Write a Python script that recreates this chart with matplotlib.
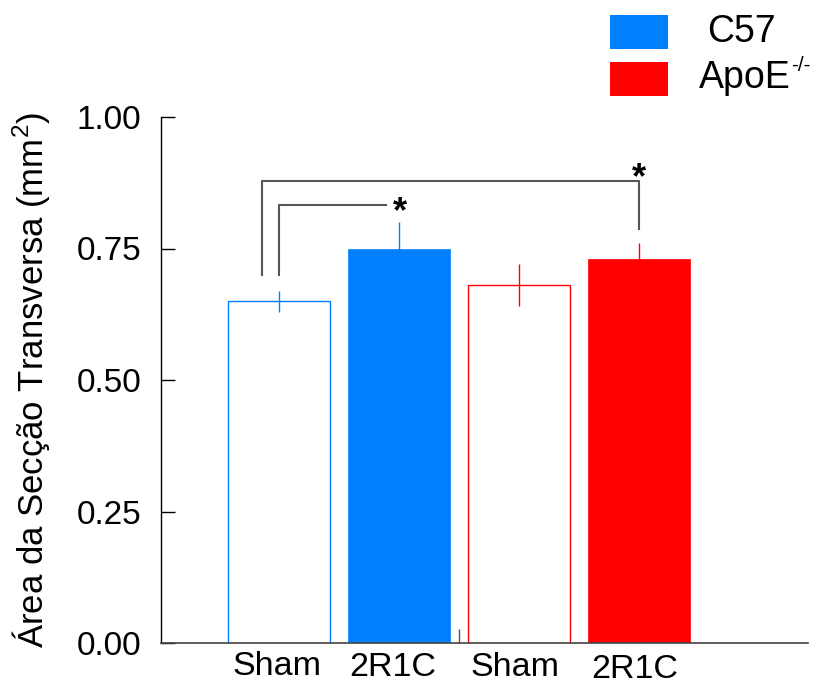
import matplotlib
matplotlib.use("Agg")
import matplotlib.pyplot as plt
from matplotlib.patches import Rectangle

plt.rcParams['font.family'] = ['Liberation Sans', 'DejaVu Sans']

categories = ["Sham", "2R1C", "Sham", "2R1C"]
values = [0.65, 0.75, 0.68, 0.73]
errors = [0.02, 0.05, 0.04, 0.03]
groups = ["C57", "C57", "ApoE", "ApoE"]
yticks = [0.00, 0.25, 0.50, 0.75, 1.00]
ytick_labels = ["0.00", "0.25", "0.50", "0.75", "1.00"]
legend_labels = ["C57", "ApoE"]
legend_sup = ["", "-/-"]

BLUE = "#0080FF"
RED = "#FF0000"
colors = {"C57": BLUE, "ApoE": RED}

fig = plt.figure(figsize=(8.28, 6.84), dpi=100)
ax = fig.add_axes([161/828, 1-643/684, (808-161)/828, (643-117)/684])

x = [1, 2, 3, 4]
width = 0.85
for i, (xi, v, e, g, cat) in enumerate(zip(x, values, errors, groups, categories)):
    c = colors[g]
    if cat == "Sham":
        ax.bar(xi, v, width=width, facecolor="white", edgecolor=c, linewidth=1.0, zorder=2)
    else:
        ax.bar(xi, v, width=width, facecolor=c, edgecolor=c, linewidth=0.5, zorder=2)
    ax.errorbar(xi, v, yerr=e, fmt="none", ecolor=c, elinewidth=1.0, capsize=0, zorder=3)

ax.set_xlim(0.021, 5.404)
ax.set_ylim(0, 1.0)
ax.set_yticks(yticks)
ax.set_yticklabels(ytick_labels, fontsize=24)
ax.tick_params(axis='y', direction='in', length=10, width=1, pad=14, colors='black')
ax.set_xticks([2.5])
ax.set_xticklabels([""])
ax.tick_params(axis='x', direction='in', length=10, width=1, color='#555555')

for s in ["top", "right"]:
    ax.spines[s].set_visible(False)
ax.spines["left"].set_color("black")
ax.spines["bottom"].set_color("#444444")
ax.spines["left"].set_linewidth(1.0)
ax.spines["bottom"].set_linewidth(1.2)

ax.set_ylabel("Área da Secção Transversa (mm$^{\\mathregular{2}}$)", fontsize=25, labelpad=18)

label_x = [0.99, 1.95, 2.97, 3.96]
label_y = [-0.044, -0.046, -0.046, -0.051]
for lx, ly, lab in zip(label_x, label_y, categories):
    ax.text(lx, ly, lab, ha="center", va="center", fontsize=24.5, transform=ax.transData, clip_on=False)

# significance brackets
gray = "#555555"
ax.plot([0.863, 0.863, 4.0, 4.0], [0.70, 0.878, 0.878, 0.787], color=gray, lw=1.5, zorder=4)
ax.plot([1.004, 1.004, 1.89], [0.70, 0.833, 0.833], color=gray, lw=1.5, zorder=4)
ax.text(2.01, 0.818, "*", ha="center", va="center", fontsize=26, fontweight="bold")
ax.text(4.0, 0.883, "*", ha="center", va="center", fontsize=26, fontweight="bold")

# legend
for (yc, c, lab, sup, tx) in [(31.5, BLUE, legend_labels[0], legend_sup[0], 707),
                              (78.5, RED, legend_labels[1], legend_sup[1], 699)]:
    fig.add_artist(Rectangle((610/828, 1-(yc+17)/684), 58/828, 34/684,
                             transform=fig.transFigure, facecolor=c, edgecolor="none"))
    fig.text(tx/828, 1-yc/684, lab, fontsize=27, va="center", ha="left")
    if sup:
        fig.text(791/828, 1-(yc-13)/684, sup, fontsize=15, va="center", ha="left")

fig.savefig("out.png", dpi=100)
